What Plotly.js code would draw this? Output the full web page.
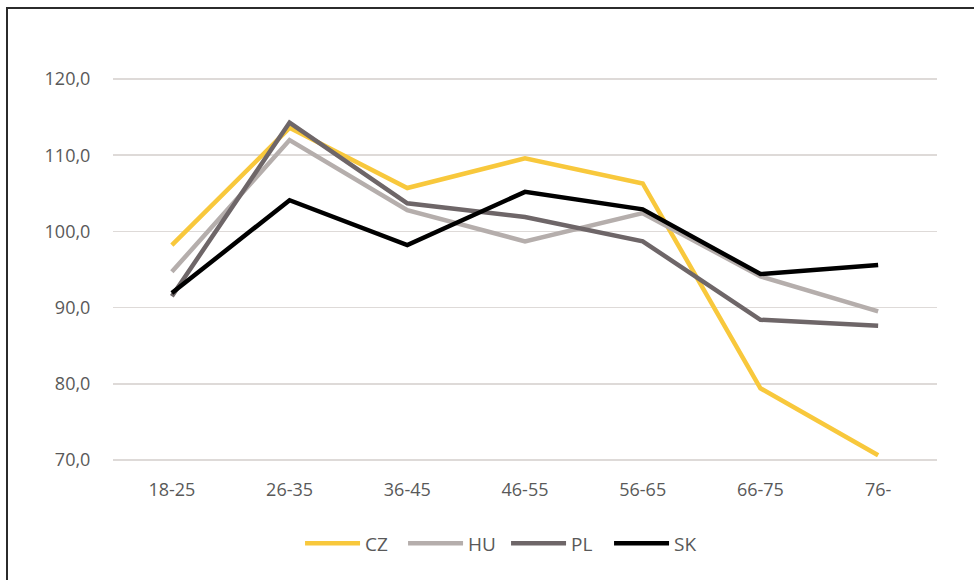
<!DOCTYPE html>
<html>
<head>
<meta charset="utf-8">
<script src="https://cdn.plot.ly/plotly-3.0.1.min.js"></script>
<style>
  html, body { margin: 0; padding: 0; background: #fff; overflow: hidden; }
  #wrap { position: relative; width: 974px; height: 580px; }
  #chart { position: absolute; left: 0; top: 0; width: 974px; height: 580px; }
  #frame { position: absolute; left: 6px; top: 7px; width: 990px; height: 600px;
           border-left: 2px solid #2b2b2b; border-top: 2px solid #2b2b2b; pointer-events: none; }
</style>
</head>
<body>
<div id="wrap">
  <div id="chart"></div>
  <div id="frame"></div>
</div>
<script>
const categories = ["18-25", "26-35", "36-45", "46-55", "56-65", "66-75", "76-"];
const czValues = [98.2, 113.6, 105.7, 109.6, 106.3, 79.4, 70.6];
const huValues = [94.7, 112.0, 102.8, 98.7, 102.4, 94.1, 89.5];
const plValues = [91.5, 114.3, 103.7, 101.9, 98.7, 88.4, 87.6];
const skValues = [91.9, 104.1, 98.2, 105.2, 102.9, 94.4, 95.6];
const seriesNames = ["CZ", "HU", "PL", "SK"];
const yTickVals = [70, 80, 90, 100, 110, 120];
const yTickText = ["70,0", "80,0", "90,0", "100,0", "110,0", "120,0"];

const colors = ["#F8C83C", "#B5AEAC", "#6E6668", "#000000"];
const allValues = [czValues, huValues, plValues, skValues];

const traces = allValues.map((vals, i) => ({
  type: "scatter",
  mode: "lines",
  x: categories,
  y: vals,
  name: seriesNames[i],
  line: { color: colors[i], width: 4.5, shape: "linear" },
  hoverinfo: "skip"
}));

const font = { family: "Open Sans, sans-serif", size: 18, color: "#595959" };
const legendFont = { family: "Open Sans, sans-serif", size: 19, color: "#595959" };

const layout = {
  width: 974,
  height: 580,
  margin: { l: 113, r: 37, t: 78, b: 119 },
  paper_bgcolor: "rgba(0,0,0,0)",
  plot_bgcolor: "rgba(0,0,0,0)",
  font: font,
  showlegend: true,
  legend: {
    orientation: "h",
    x: 0.477, xanchor: "center",
    y: -0.215, yanchor: "middle",
    font: legendFont,
    itemwidth: 55,
    entrywidth: 33,
    entrywidthmode: "pixels",
    tracegroupgap: 0
  },
  xaxis: {
    type: "category",
    range: [-0.5, 6.5],
    showgrid: false,
    zeroline: false,
    showline: false,
    ticks: "outside",
    ticklen: 12,
    tickcolor: "rgba(0,0,0,0)",
    tickfont: font,
    fixedrange: true
  },
  yaxis: {
    range: [69.85, 120.15],
    tickvals: yTickVals,
    ticktext: yTickText,
    showgrid: true,
    gridcolor: "#DEDAD8",
    gridwidth: 1.6,
    zeroline: false,
    showline: false,
    ticks: "outside",
    ticklen: 18,
    tickcolor: "rgba(0,0,0,0)",
    tickfont: font,
    fixedrange: true
  }
};

Plotly.newPlot("chart", traces, layout, { displayModeBar: false, staticPlot: true });
</script>
</body>
</html>
